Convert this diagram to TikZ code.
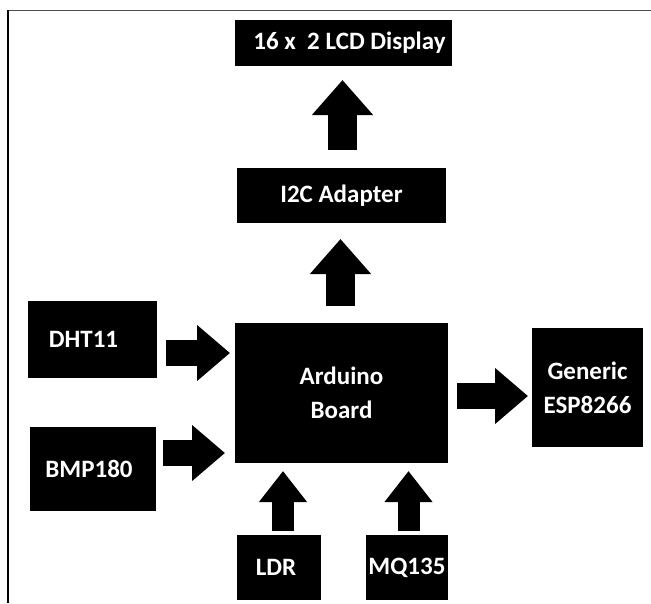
\documentclass[tikz,border=0pt]{standalone}
\usepackage{fontspec}
\setmainfont{Carlito}
\usetikzlibrary{arrows.meta}
\begin{document}
\begin{tikzpicture}[x=1pt,y=-1pt,
		box/.style={fill=black,text=white,inner sep=0pt,align=center,
			font=\fontsize{25}{34}\selectfont\bfseries},
		bigarrow/.style={line width=29pt,-{Triangle[width=59pt,length=35pt]}},
		medarrow/.style={line width=26pt,-{Triangle[width=54pt,length=33pt]}},
		smallarrow/.style={line width=22pt,-{Triangle[width=46pt,length=31pt]}}]
		\useasboundingbox (0,0) rectangle (651,603);
		%Outer frame
		\draw[line width=1.6pt,black!70] (7,10.5) -- (651,10.5);
		\draw[line width=2pt] (7.5,10) -- (7.5,603);
		%Blocks
		\node[box,minimum width=217pt,minimum height=46pt] (lcd) at (343.5,43) {\hspace{12pt}16 x\ \ 2 LCD Display};
		\node[box,minimum width=209pt,minimum height=55pt] (i2c) at (341.5,195.5) {I2C Adapter};
		\node[box,minimum width=213pt,minimum height=140pt] (ard) at (341.5,393) {Arduino\\Board};
		\node[box,minimum width=129pt,minimum height=77pt] (dht) at (92.5,339.5) {DHT11\hspace{18pt}};
		\node[box,minimum width=126pt,minimum height=84pt] (bmp) at (93,469) {BMP180\hspace{8pt}};
		\node[box,minimum width=84pt,minimum height=65pt] (ldr) at (279,567.5) {LDR\hspace{6pt}};
		\node[box,minimum width=82pt,minimum height=65pt] (mq) at (407,567.5) {MQ135};
		\node[box,minimum width=111pt,minimum height=119pt] (esp) at (587.5,387.5) {Generic\\ESP8266};
		%Arrow ends
		\coordinate (ardOut) at (340.5,306);
		\coordinate (i2cIn) at (340.5,239);
		\coordinate (i2cOut) at (342.5,150);
		\coordinate (lcdIn) at (342.5,80);
		\coordinate (dhtOut) at (166,353);
		\coordinate (dhtIn) at (230,353);
		\coordinate (bmpOut) at (163,453);
		\coordinate (bmpIn) at (225,453);
		\coordinate (espOut) at (457,396);
		\coordinate (espIn) at (528,396);
		\coordinate (ldrOut) at (283,531);
		\coordinate (ldrIn) at (283,471);
		\coordinate (mqOut) at (408.5,531);
		\coordinate (mqIn) at (408.5,471);
		%Arrows
		\draw[bigarrow] (i2cOut) -- (lcdIn);
		\draw[bigarrow] (ardOut) -- (i2cIn);
		\draw[medarrow] (dhtOut) -- (dhtIn);
		\draw[medarrow] (bmpOut) -- (bmpIn);
		\draw[medarrow] (espOut) -- (espIn);
		\draw[smallarrow] (ldrOut) -- (ldrIn);
		\draw[smallarrow] (mqOut) -- (mqIn);
\end{tikzpicture}
\end{document}
